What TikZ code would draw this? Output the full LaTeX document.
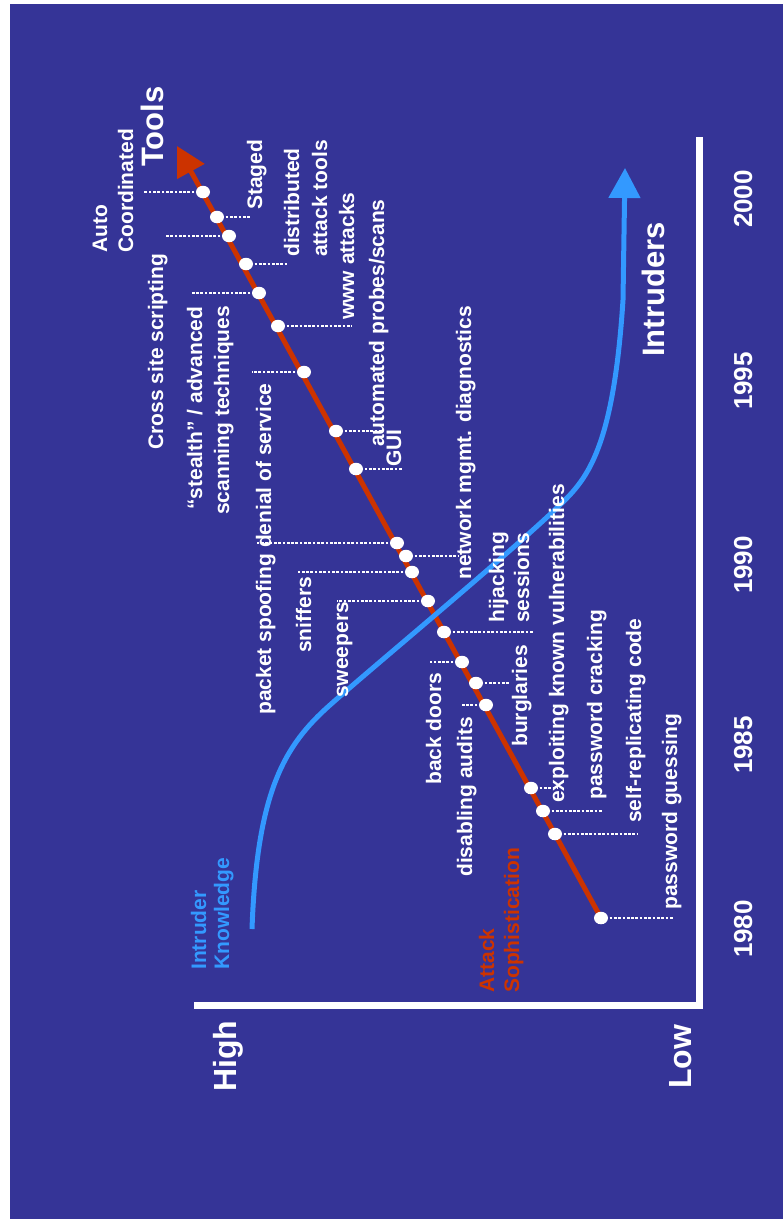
\documentclass[tikz,border=0pt]{standalone}
\usepackage{fontspec}
\setmainfont{Liberation Sans}
\usetikzlibrary{shapes.geometric,arrows.meta}
\definecolor{bg}{RGB}{53,52,151}
\definecolor{attred}{RGB}{204,51,0}
\definecolor{intblue}{RGB}{51,153,255}
\begin{document}
\begin{tikzpicture}[x=1pt,y=-1pt,
  lab/.style={rotate=90,anchor=base west,inner sep=0pt,text=white,font=\fontsize{21}{25}\selectfont\bfseries},
  bigl/.style={lab,font=\fontsize{31}{36}\selectfont\bfseries},
  hilo/.style={lab,font=\fontsize{32}{36}\selectfont\bfseries},
  yr/.style={rotate=90,anchor=base,inner sep=0pt,text=white,font=\fontsize{26}{30}\selectfont\bfseries},
  dot/.style={ellipse,fill=white,minimum width=14pt,minimum height=12.5pt,inner sep=0pt},
  leader/.style={white,line width=2.8pt,dash pattern=on 2.7pt off 1.6pt},
  axisline/.style={white,line width=7pt,line join=miter},
  redline/.style={attred,line width=5pt,-{Triangle[length=29pt,width=30pt]}},
  blueline/.style={intblue,line width=5pt,-{Triangle[length=30pt,width=31pt]}},
  ]
\useasboundingbox (0,0) rectangle (783,1219);
\fill[white] (0,0) rectangle (783,1219);
\fill[bg] (10,4) rectangle (783,1219);

% axes
\coordinate (axL) at (194,1005.5);
\coordinate (axO) at (699.5,1005.5);
\coordinate (axT) at (699.5,137);
\draw[axisline] (axL) -- (axO) -- (axT);

% dot positions
\coordinate (p1) at (601,918);
\coordinate (p2) at (555,834);
\coordinate (p3) at (543,811);
\coordinate (p4) at (531,788);
\coordinate (p5) at (486,705);
\coordinate (p6) at (476,683);
\coordinate (p7) at (462,662);
\coordinate (p8) at (444,632);
\coordinate (p9) at (428,601);
\coordinate (p10) at (412,572);
\coordinate (p11) at (406,556);
\coordinate (p12) at (397,543);
\coordinate (p13) at (356,469);
\coordinate (p14) at (336,431);
\coordinate (p15) at (304,372);
\coordinate (p16) at (278,326);
\coordinate (p17) at (259,293);
\coordinate (p18) at (246,264);
\coordinate (p19) at (229,236);
\coordinate (p20) at (217,217);
\coordinate (p21) at (203,192);
\coordinate (rtip) at (177,146);

% leader ends
\coordinate (e1) at (673,918);
\coordinate (e2) at (638,834);
\coordinate (e3) at (602,811);
\coordinate (e4) at (557,788);
\coordinate (e5) at (462,705);
\coordinate (e6) at (510,683);
\coordinate (e7) at (430,662);
\coordinate (e8) at (533,632);
\coordinate (e9) at (337,601);
\coordinate (e10) at (298,572);
\coordinate (e11) at (458,556);
\coordinate (e12) at (257,543);
\coordinate (e13) at (403,469);
\coordinate (e14) at (382,431);
\coordinate (e15) at (252,372);
\coordinate (e16) at (352,326);
\coordinate (e17) at (192,293);
\coordinate (e18) at (287,264);
\coordinate (e19) at (165,236);
\coordinate (e20) at (250,217);
\coordinate (e21) at (143,192);

\foreach \i in {1,...,21} {\draw[leader] (p\i) -- (e\i);}

% attack sophistication line
\draw[redline] (p1) -- (rtip);

% intruder knowledge curve
\coordinate (b0) at (252,929);
\coordinate (b1) at (330,705);
\coordinate (b2) at (565,500);
\coordinate (b3) at (623,300);
\coordinate (btip) at (625,168);
\draw[blueline] (b0) .. controls (257,790) and (285,745) .. (b1)
  .. controls (375,665) and (520,545) .. (b2)
  .. controls (590,475) and (614,440) .. (b3) -- (btip);

% dots
\foreach \i in {1,...,21} {\node[dot] (d\i) at (p\i) {};}

% labels
\node[lab] (tAuto) at (107,253) {Auto};
\node[lab] (tCoord) at (133,253) {Coordinated};
\node[bigl] (tTools) at (163,167) {Tools};
\node[lab] (tStaged) at (262,210) {Staged};
\node[lab] (tDist) at (299,257) {distributed};
\node[lab] (tAttT) at (327,257) {attack tools};
\node[lab] (tWww) at (354,320) {www attacks};
\node[lab] (tAuto2) at (384,447) {automated probes/scans};
\node[lab] (tGui) at (401,467) {GUI};
\node[lab] (tCross) at (163,450) {Cross site scripting};
\node[lab] (tStealth) at (202,510) {“stealth” / advanced};
\node[lab] (tScan) at (229,515) {scanning techniques};
\node[lab] (tPacket) at (271,715) {packet spoofing denial of service};
\node[lab] (tSniff) at (311,653) {sniffers};
\node[lab] (tSweep) at (348,698) {sweepers};
\node[lab] (tNet) at (471,580) {network mgmt. diagnostics};
\node[lab] (tHij) at (504,623) {hijacking};
\node[lab] (tSess) at (529,623) {sessions};
\node[lab] (tBack) at (441,785) {back doors};
\node[lab] (tDisab) at (472,877) {disabling audits};
\node[lab] (tBurg) at (527,747) {burglaries};
\node[lab] (tExpl) at (564,803) {exploiting known vulnerabilities};
\node[lab] (tCrack) at (602,800) {password cracking};
\node[lab] (tSelf) at (641,823) {self-replicating code};
\node[lab] (tGuess) at (677,910) {password guessing};
\node[lab,text=intblue] (tIntr) at (206,970) {Intruder};
\node[lab,text=intblue] (tKnow) at (229,970) {Knowledge};
\node[lab,text=attred] (tAtt) at (494,993) {Attack};
\node[lab,text=attred] (tSoph) at (519,993) {Sophistication};
\node[bigl] (tIntruders) at (664,357) {Intruders};
\node[hilo] (tHigh) at (236,1092) {High};
\node[hilo] (tLow) at (691,1089) {Low};

% years
\node[yr] (y1980) at (752,929) {1980};
\node[yr] (y1985) at (752,745) {1985};
\node[yr] (y1990) at (752,565) {1990};
\node[yr] (y1995) at (752,381) {1995};
\node[yr] (y2000) at (752,199) {2000};
\end{tikzpicture}
\end{document}
